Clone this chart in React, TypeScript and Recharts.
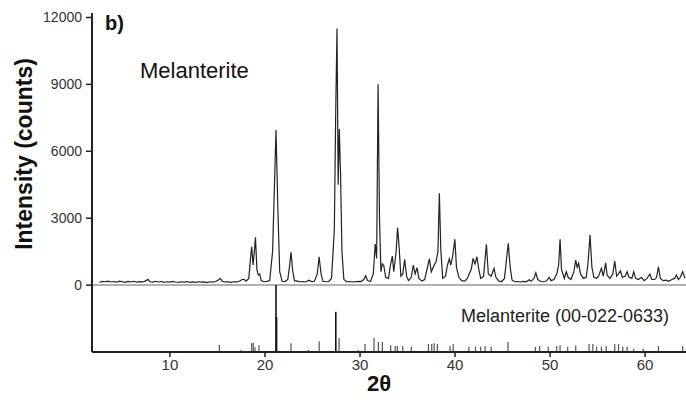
import { ComposedChart, Line, XAxis, YAxis, ReferenceLine } from "recharts";

// measured XRD pattern, [2theta, counts]
const pattern: [number, number][] = [
  [2.6, 120], [2.9, 170], [3.2, 150], [3.5, 180], [3.8, 140], [4.1, 160], [4.4, 130], [4.7, 175],
  [5.0, 150], [5.3, 120], [5.6, 165], [5.9, 140], [6.2, 170], [6.5, 130], [6.8, 155], [7.1, 140],
  [7.4, 180], [7.7, 260], [7.9, 150], [8.2, 130], [8.5, 170], [8.8, 140], [9.1, 160], [9.4, 120],
  [9.7, 150], [10.0, 130], [10.3, 165], [10.6, 140], [10.9, 120], [11.2, 150], [11.5, 130], [11.8, 160],
  [12.1, 125], [12.4, 145], [12.7, 120], [13.0, 150], [13.3, 130], [13.6, 140], [13.9, 115], [14.2, 150],
  [14.5, 135], [14.8, 160], [15.1, 230], [15.3, 300], [15.5, 170], [15.8, 140], [16.1, 150], [16.4, 120],
  [16.7, 150], [17.0, 140], [17.3, 170], [17.6, 250], [17.8, 260], [18.0, 180], [18.3, 300], [18.5, 1300],
  [18.6, 1720], [18.75, 900], [18.9, 1600], [19.0, 2140], [19.15, 700], [19.3, 450], [19.45, 500], [19.6, 200],
  [19.9, 150], [20.2, 170], [20.5, 200], [20.8, 1500], [21.0, 4500], [21.16, 6950], [21.35, 3500], [21.55, 600],
  [21.8, 170], [22.1, 160], [22.4, 250], [22.6, 900], [22.74, 1470], [22.9, 700], [23.1, 200], [23.4, 180],
  [23.7, 150], [24.0, 160], [24.3, 140], [24.6, 220], [24.9, 160], [25.2, 170], [25.5, 500], [25.7, 1270],
  [25.9, 500], [26.1, 170], [26.4, 150], [26.7, 160], [27.0, 300], [27.3, 2500], [27.45, 8000], [27.58, 11500],
  [27.7, 4500], [27.82, 7000], [27.95, 5000], [28.1, 1500], [28.3, 250], [28.6, 150], [28.9, 160], [29.2, 140],
  [29.5, 150], [29.8, 170], [30.1, 160], [30.4, 250], [30.6, 420], [30.8, 200], [31.1, 160], [31.4, 500],
  [31.6, 1840], [31.75, 1200], [31.9, 9000], [32.05, 3000], [32.2, 600], [32.35, 950], [32.5, 880], [32.7, 350],
  [33.0, 300], [33.2, 900], [33.4, 1300], [33.55, 600], [33.8, 1500], [33.95, 2575], [34.1, 1800], [34.3, 400],
  [34.5, 500], [34.7, 1150], [34.9, 400], [35.1, 200], [35.4, 350], [35.6, 900], [35.8, 500], [36.0, 780],
  [36.2, 300], [36.5, 180], [36.8, 250], [37.1, 800], [37.3, 1180], [37.5, 600], [37.8, 900], [38.0, 1050],
  [38.2, 1500], [38.35, 4120], [38.5, 1600], [38.7, 300], [39.0, 400], [39.2, 900], [39.4, 1180], [39.55, 900],
  [39.75, 1300], [39.98, 2050], [40.15, 800], [40.4, 350], [40.7, 200], [41.0, 180], [41.3, 300], [41.5, 520],
  [41.7, 700], [41.9, 1200], [42.1, 950], [42.3, 1270], [42.5, 700], [42.7, 300], [43.0, 400], [43.3, 1830],
  [43.5, 500], [43.8, 400], [44.1, 750], [44.3, 350], [44.6, 180], [44.9, 160], [45.2, 300], [45.4, 1100],
  [45.6, 1870], [45.8, 800], [46.0, 220], [46.3, 150], [46.6, 160], [46.9, 140], [47.2, 170], [47.5, 150],
  [47.8, 240], [48.0, 170], [48.3, 300], [48.5, 550], [48.7, 250], [49.0, 170], [49.3, 150], [49.6, 180],
  [49.9, 350], [50.1, 200], [50.4, 250], [50.7, 500], [50.9, 900], [51.05, 2050], [51.2, 700], [51.5, 300],
  [51.7, 600], [51.9, 350], [52.2, 250], [52.5, 600], [52.7, 1120], [52.85, 800], [53.0, 975], [53.2, 500],
  [53.5, 300], [53.8, 350], [54.0, 1000], [54.2, 2250], [54.4, 800], [54.6, 350], [54.9, 300], [55.1, 400],
  [55.4, 750], [55.6, 400], [55.85, 1000], [56.0, 450], [56.3, 300], [56.6, 500], [56.8, 1080], [57.0, 400],
  [57.2, 500], [57.4, 640], [57.6, 350], [57.9, 400], [58.1, 600], [58.3, 350], [58.6, 300], [58.8, 600],
  [59.0, 300], [59.3, 250], [59.6, 350], [59.9, 200], [60.2, 300], [60.5, 490], [60.7, 250], [61.0, 250],
  [61.2, 350], [61.4, 820], [61.6, 300], [61.9, 200], [62.2, 220], [62.5, 170], [62.8, 250], [63.1, 300],
  [63.3, 450], [63.5, 250], [63.7, 350], [63.95, 600], [64.2, 300],
];

// reference card 00-022-0633, [2theta, relative intensity %]
const sticks: [number, number][] = [
  [15.2, 11], [17.5, 3], [18.6, 13], [18.77, 14], [18.95, 7], [19.37, 10], [21.16, 100], [21.22, 52],
  [22.74, 13], [24.6, 3], [25.7, 16], [27.45, 60], [27.8, 21], [29.8, 3], [30.53, 12], [31.47, 21],
  [31.93, 15], [32.35, 15], [33.23, 10], [33.7, 9], [33.93, 9], [34.5, 9], [35.4, 8], [37.2, 12],
  [37.55, 12], [37.8, 13], [38.14, 12], [39.47, 9], [39.8, 12], [41.45, 8], [42.15, 8], [42.7, 8],
  [43.16, 9], [43.8, 8], [45.57, 15], [48.45, 8], [48.9, 9], [49.8, 8], [50.7, 9], [51.05, 10],
  [51.85, 8], [52.7, 10], [54.1, 12], [54.5, 12], [54.9, 8], [55.4, 8], [55.9, 9], [56.8, 12],
  [57.2, 12], [57.65, 8], [58.1, 8], [58.8, 5], [59.8, 5], [61.4, 9], [63.95, 9],
];

const xTicks = [10, 20, 30, 40, 50, 60];
const yTicks = [0, 3000, 6000, 9000, 12000];

const data = pattern.map(([x, y]) => ({ x, y }));

const font = '"Liberation Sans", Arial, sans-serif';
const ink = "#222";

export default function App() {
  return (
    <div style={{ position: "relative", width: 686, height: 403, background: "#fff" }}>
      <style>{"body{margin:0}"}</style>
      <ComposedChart width={686} height={403} data={data} margin={{ top: 13, right: 0, bottom: 0, left: 0 }}>
        <XAxis
          dataKey="x"
          type="number"
          domain={[1.8, 64.3]}
          ticks={xTicks}
          allowDataOverflow
          height={51}
          tickSize={5}
          tickMargin={2}
          axisLine={{ stroke: ink, strokeWidth: 2 }}
          tickLine={{ stroke: ink, strokeWidth: 1.5 }}
          tick={{ fill: "#333", fontSize: 15, fontFamily: font }}
        />
        <YAxis
          yAxisId="counts"
          type="number"
          domain={[-3000, 12200]}
          ticks={yTicks}
          allowDataOverflow
          width={92}
          tickSize={6}
          tickMargin={4}
          axisLine={{ stroke: ink, strokeWidth: 2 }}
          tickLine={{ stroke: ink, strokeWidth: 1.5 }}
          tick={{ fill: "#333", fontSize: 14, fontFamily: font }}
        />
        <YAxis yAxisId="stick" hide type="number" domain={[0, 506.67]} allowDataOverflow />
        <ReferenceLine yAxisId="counts" y={0} stroke="#999" strokeWidth={1.5} />
        {sticks.map(([p, h]) => (
          <ReferenceLine
            key={p}
            yAxisId="stick"
            segment={[{ x: p, y: 0 }, { x: p, y: h }]}
            stroke={h > 40 ? "#111" : "#555"}
            strokeWidth={h > 40 ? 1.6 : 1.2}
          />
        ))}
        <Line
          yAxisId="counts"
          type="linear"
          dataKey="y"
          stroke={ink}
          strokeWidth={1.2}
          dot={false}
          isAnimationActive={false}
        />
      </ComposedChart>
      <svg
        width={686}
        height={403}
        style={{ position: "absolute", left: 0, top: 0, pointerEvents: "none" }}
        fontFamily={font}
      >
        <text x={105} y={30} fontSize={20} fontWeight="bold" fill="#111">b)</text>
        <text x={140} y={78} fontSize={22} fill="#111">Melanterite</text>
        <text x={461} y={322} fontSize={18} fill="#222">Melanterite (00-022-0633)</text>
        <text
          x={32}
          y={154}
          fontSize={23}
          fontWeight="bold"
          fill="#111"
          textAnchor="middle"
          transform="rotate(-90, 32, 154)"
        >
          Intensity (counts)
        </text>
        <text x={379} y={391} fontSize={22} fontWeight="bold" fill="#111" textAnchor="middle">2θ</text>
      </svg>
    </div>
  );
}
